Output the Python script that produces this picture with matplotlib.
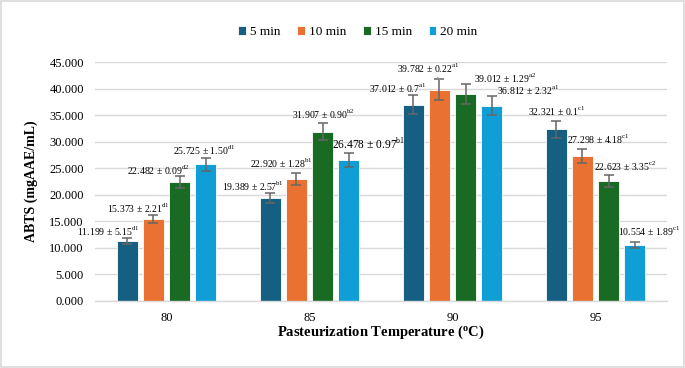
import numpy as np
import matplotlib
matplotlib.use("Agg")
import matplotlib.pyplot as plt
from matplotlib.patches import Rectangle

plt.rcParams["font.family"] = "Liberation Serif"
plt.rcParams["mathtext.fontset"] = "custom"
plt.rcParams["mathtext.rm"] = "Liberation Serif"
plt.rcParams["mathtext.bf"] = "Liberation Serif:bold"

# Data
temps = ["80", "85", "90", "95"]
series_names = ["5 min", "10 min", "15 min", "20 min"]
colors = ["#156082", "#E97132", "#196B24", "#0F9ED5"]

abts_5 = [11.199, 19.389, 37.012, 32.321]
abts_10 = [15.373, 22.920, 39.782, 27.298]
abts_15 = [22.482, 31.907, 39.012, 22.623]
abts_20 = [25.725, 26.478, 36.812, 10.554]

err_5 = [0.56, 0.97, 1.85, 1.62]
err_10 = [0.77, 1.15, 1.99, 1.36]
err_15 = [1.12, 1.60, 1.95, 1.13]
err_20 = [1.29, 1.32, 1.84, 0.53]

sd_5 = ["5.15", "2.57", "0.7", "0.1"]
sd_10 = ["2.21", "1.28", "0.22", "4.18"]
sd_15 = ["0.09", "0.90", "1.29", "3.35"]
sd_20 = ["1.50", "0.97", "2.32", "1.89"]

sup_5 = ["d1", "b1", "a1", "c1"]
sup_10 = ["d1", "b1", "a1", "c1"]
sup_15 = ["d2", "b2", "a2", "c2"]
sup_20 = ["d1", "b1", "a1", "c1"]

# label placement (x in category units, y in data units)
lab_x_5 = [-0.406, 0.608, 1.615, 2.731]
lab_y_5 = [13.16, 21.65, 40.15, 35.8]
lab_x_10 = [-0.196, 0.804, 1.832, 3.021]
lab_y_10 = [17.5, 26.0, 43.93, 30.52]
lab_x_15 = [-0.056, 1.098, 2.367, 3.21]
lab_y_15 = [24.67, 35.24, 42.04, 25.29]
lab_x_20 = [0.266, 1.413, 2.528, 3.374]
lab_y_20 = [28.3, 29.58, 39.64, 13.02]

values = [abts_5, abts_10, abts_15, abts_20]
errors = [err_5, err_10, err_15, err_20]
sds = [sd_5, sd_10, sd_15, sd_20]
sups = [sup_5, sup_10, sup_15, sup_20]
lab_xs = [lab_x_5, lab_x_10, lab_x_15, lab_x_20]
lab_ys = [lab_y_5, lab_y_10, lab_y_15, lab_y_20]

fig = plt.figure(figsize=(6.85, 3.68), dpi=100)
ax = fig.add_axes([0.1387, 0.1829, 0.835, 0.6478])

x = np.arange(len(temps))
pitch = 0.182
width = 0.148

for i in range(4):
    pos = x + (i - 1.5) * pitch
    ax.bar(pos, values[i], width, color=colors[i], label=series_names[i],
           edgecolor="white", linewidth=0.6, zorder=2)
    ax.errorbar(pos, values[i], yerr=errors[i], fmt="none", ecolor="#666666",
                elinewidth=1.1, capsize=3.5, capthick=1.1, zorder=3)
    for j in range(4):
        txt = f"{values[i][j]:.3f} ± {sds[i][j]}" + r"$^{\mathrm{" + sups[i][j] + "}}$"
        fs = 8.3 if (i == 3 and j == 1) else 7
        if i == 1 and j == 2:
            ax.annotate(txt, xy=(pos[j], values[i][j] + errors[i][j]),
                        xytext=(lab_xs[i][j], lab_ys[i][j]), ha="center",
                        va="center", fontsize=fs, zorder=5,
                        arrowprops=dict(arrowstyle="-", color="#999999",
                                        lw=0.8, shrinkA=3, shrinkB=0))
        else:
            ax.text(lab_xs[i][j], lab_ys[i][j], txt, ha="center", va="center",
                    fontsize=fs, zorder=5)

ax.set_xlim(-0.5, 3.5)
ax.set_ylim(0, 45)
ax.set_yticks(np.arange(0, 46, 5))
ax.set_yticklabels([f"{v:.3f}" for v in np.arange(0, 46, 5)])
ax.set_xticks(x)
ax.set_xticklabels(temps)
ax.tick_params(axis="both", length=0, labelsize=9, pad=8)
ax.grid(axis="y", color="#D9D9D9", linewidth=1, zorder=0)
ax.set_axisbelow(True)
for s in ["top", "right", "left"]:
    ax.spines[s].set_visible(False)
ax.spines["bottom"].set_color("#D9D9D9")
ax.spines["bottom"].set_linewidth(1)

ax.set_xlabel(r"Pasteurization Temperature ($\mathbf{^{o}}$C)", fontsize=10.5,
              fontweight="bold", labelpad=0)
ax.set_ylabel("ABTS (mgAAE/mL)", fontsize=10, fontweight="bold", labelpad=8)

fig.legend(loc="center", bbox_to_anchor=(358 / 685, 1 - 32 / 368), ncol=4,
           frameon=False, fontsize=9.5, handlelength=0.6, handleheight=0.6,
           handletextpad=0.3, columnspacing=1.25)

fig.add_artist(Rectangle((0.002, 0.003), 0.996, 0.994, transform=fig.transFigure,
                         fill=False, edgecolor="#D9D9D9", linewidth=1.2))

fig.savefig("out.png", dpi=100)
